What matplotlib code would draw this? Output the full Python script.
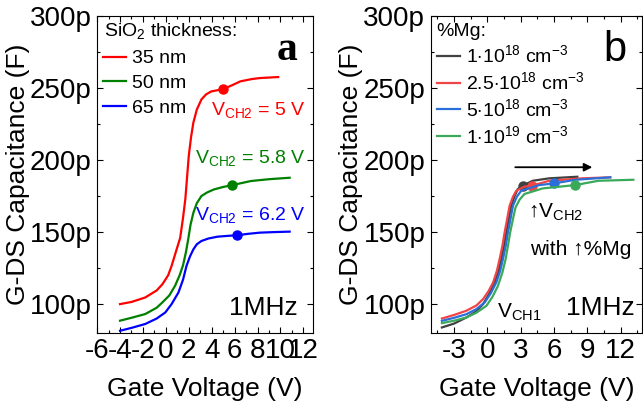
import matplotlib
matplotlib.use("Agg")
import matplotlib.pyplot as plt
from matplotlib.ticker import MultipleLocator, FuncFormatter

plt.rcParams['font.family'] = ['Liberation Sans', 'DejaVu Sans']
plt.rcParams['mathtext.fontset'] = 'custom'
plt.rcParams['mathtext.rm'] = 'Liberation Sans'
plt.rcParams['mathtext.it'] = 'Liberation Sans:italic'
plt.rcParams['axes.unicode_minus'] = False

# ---- panel a: SiO2 thickness (capacitance in pF)
a_labels = ['35 nm', '50 nm', '65 nm']
a_colors = ['#ff0000', '#008000', '#0000ff']
a_x = [
    [-4, -3, -1.8, -0.8, -0.3, 0.2, 0.5, 0.9, 1.25, 1.5, 1.7, 2.0, 2.2, 2.4, 2.7, 3.1, 3.5, 3.95, 5.0, 5.8, 6.5, 7.5, 8.2, 9.8],
    [-4, -3, -1.8, -0.8, -0.3, 0.3, 0.8, 1.2, 1.5, 1.75, 1.95, 2.15, 2.4, 2.7, 3.1, 3.6, 4.2, 5.0, 5.8, 6.6, 7.4, 9.0, 10.8],
    [-4, -3, -1.8, -0.8, -0.05, 0.5, 1.1, 1.5, 1.8, 2.1, 2.4, 2.7, 3.1, 3.7, 4.5, 5.3, 6.2, 7.2, 8.2, 9.5, 10.8],
]
a_y = [
    [100, 101.5, 104.6, 109.5, 113.8, 120, 126.5, 137, 146, 160, 173, 203, 216, 226, 235, 242, 245.5, 247.6, 249.2, 252, 254.6, 256.2, 256.9, 257.6],
    [88.5, 90.5, 93.1, 97.5, 101.2, 106, 112.7, 120, 127, 136, 145, 155, 163.4, 170, 175, 177.5, 179.6, 181.3, 182.6, 184, 185.4, 186.7, 187.7],
    [81.5, 83.5, 86.2, 90, 94.2, 100, 108.1, 117, 126.5, 133, 138, 141.5, 143.8, 145.5, 146.8, 147.3, 147.8, 148.8, 149.6, 150, 150.3],
]
a_vch2 = [5.0, 5.8, 6.2]
a_cch2 = [249.2, 182.6, 147.8]
a_notes = ['V$_{\\mathrm{CH2}}$ = 5 V', 'V$_{\\mathrm{CH2}}$ = 5.8 V', 'V$_{\\mathrm{CH2}}$ = 6.2 V']

# ---- panel b: Mg doping
b_labels = ['1$\\cdot$10$^{18}$ cm$^{-3}$', '2.5$\\cdot$10$^{18}$ cm$^{-3}$',
            '5$\\cdot$10$^{18}$ cm$^{-3}$', '1$\\cdot$10$^{19}$ cm$^{-3}$']
b_colors = ['#404040', '#f04446', '#2a6fd8', '#3aaa5a']
b_x = [
    [-4.1, -3, -1.9, -1.0, -0.39, 0.15, 0.65, 1.0, 1.25, 1.5, 1.7, 1.95, 2.14, 2.45, 2.74, 3.18, 4.08, 5.57, 8.1],
    [-4.1, -3, -1.9, -1.0, -0.39, 0.1, 0.51, 0.85, 1.1, 1.35, 1.55, 1.8, 2.0, 2.3, 2.6, 3.33, 4.0, 5.57, 8.54, 11.07],
    [-4.1, -3, -1.9, -1.0, -0.24, 0.3, 0.8, 1.15, 1.4, 1.65, 1.85, 2.1, 2.3, 2.65, 3.04, 4.67, 6.0, 7.95, 11.07],
    [-4.1, -3, -1.9, -1.0, -0.09, 0.45, 0.95, 1.35, 1.64, 1.85, 2.05, 2.3, 2.53, 2.9, 3.33, 4.97, 7.89, 10.0, 13.15],
]
b_y = [
    [83.8, 86.5, 90.7, 95, 100, 107, 115, 123, 131.3, 140.5, 149.8, 160, 168.3, 175, 179.9, 182.2, 185.6, 187.3, 188.4],
    [90, 92.5, 95.4, 99, 103.5, 109, 115, 123, 131.3, 140.5, 149.8, 160, 168.3, 174.5, 178.7, 181.5, 182.2, 185.6, 187.3, 188],
    [88.4, 90.5, 93, 96.5, 101.2, 107.5, 115, 123, 131.3, 140.5, 149.8, 160, 168.3, 174.5, 178.7, 182.6, 183.8, 186.3, 188],
    [86.8, 88.5, 90.7, 94, 98.8, 105, 112.7, 122, 131.3, 140.5, 149.8, 159, 167.1, 172.5, 176.4, 180.3, 182.6, 185.6, 186.3],
]
b_vch2 = [3.18, 4.0, 6.0, 7.89]
b_cch2 = [182.2, 182.2, 183.8, 182.6]

fig = plt.figure(figsize=(6.43, 4.09), dpi=100)
ax1 = fig.add_axes([0.151, 0.186, 0.336, 0.775])
ax2 = fig.add_axes([0.670, 0.186, 0.328, 0.775])

for i in range(3):
    ax1.plot(a_x[i], a_y[i], color=a_colors[i], lw=1.6, label=a_labels[i])
    ax1.plot(a_vch2[i], a_cch2[i], 'o', color=a_colors[i], ms=6.5)
for i in range(4):
    ax2.plot(b_x[i], b_y[i], color=b_colors[i], lw=1.6, label=b_labels[i])
    ax2.plot(b_vch2[i], b_cch2[i], 'o', color=b_colors[i], ms=6.5)

fmt = FuncFormatter(lambda v, p: '%gp' % v)
for ax in (ax1, ax2):
    ax.set_ylim(80, 300)
    ax.yaxis.set_major_locator(MultipleLocator(50))
    ax.yaxis.set_minor_locator(MultipleLocator(25))
    ax.yaxis.set_major_formatter(fmt)
    ax.tick_params(which='both', direction='in', top=True, right=True, labelsize=20, width=0.8)
    ax.tick_params(which='major', length=4, pad=4)
    ax.tick_params(which='minor', length=2.5)
    ax.set_xlabel('Gate Voltage (V)', fontsize=19, labelpad=9)
    ax.set_ylabel('G-DS Capacitance (F)', fontsize=19, labelpad=0)
    for s in ax.spines.values():
        s.set_linewidth(0.8)

ax1.set_xlim(-6, 12.85)
ax1.xaxis.set_major_locator(MultipleLocator(2))
ax1.xaxis.set_minor_locator(MultipleLocator(1))
ax2.set_xlim(-5.1, 13.9)
ax2.xaxis.set_major_locator(MultipleLocator(3))
ax2.xaxis.set_minor_locator(MultipleLocator(1.5))

# legends: titles as separate texts
ax1.text(0.03, 0.953, 'SiO$_2$ thickness:', transform=ax1.transAxes, fontsize=14,
         ha='left', va='center')
ax1.legend(loc='upper left', bbox_to_anchor=(0.028, 0.893),
           frameon=False, fontsize=14, handlelength=1.2, handletextpad=0.3,
           labelspacing=0.36, borderaxespad=0, borderpad=0)
ax2.text(0.028, 0.95, '%Mg:', transform=ax2.transAxes, fontsize=14,
         ha='left', va='center')
ax2.legend(loc='upper left', bbox_to_anchor=(0.028, 0.91),
           frameon=False, fontsize=14, handlelength=1.2, handletextpad=0.3,
           labelspacing=0.26, borderaxespad=0, borderpad=0)

ax1.text(0.88, 0.893, 'a', transform=ax1.transAxes, fontsize=30, fontweight='bold',
         family='Liberation Serif', ha='center', va='center')
ax2.text(0.872, 0.893, 'b', transform=ax2.transAxes, fontsize=30, ha='center', va='center')

note_y = [0.703, 0.552, 0.372]
for i in range(3):
    ax1.text(0.965, note_y[i], a_notes[i], transform=ax1.transAxes, color=a_colors[i],
             fontsize=14, ha='right', va='center')

ax1.text(0.93, 0.079, '1MHz', transform=ax1.transAxes, fontsize=19, ha='right', va='center')
ax2.text(0.967, 0.079, '1MHz', transform=ax2.transAxes, fontsize=19, ha='right', va='center')

ax2.annotate('', xy=(9.7, 195), xytext=(2.26, 195),
             arrowprops=dict(arrowstyle='-|>', color='black', lw=1.3, mutation_scale=12))
ax2.text(0.46, 0.379, '↑V$_{\\mathrm{CH2}}$', transform=ax2.transAxes, fontsize=15,
         ha='left', va='center')
ax2.text(0.469, 0.262, 'with ↑%Mg', transform=ax2.transAxes, fontsize=15,
         ha='left', va='center')
ax2.text(0.313, 0.066, 'V$_{\\mathrm{CH1}}$', transform=ax2.transAxes, fontsize=15,
         ha='left', va='center')

fig.savefig('out.png', dpi=100)
